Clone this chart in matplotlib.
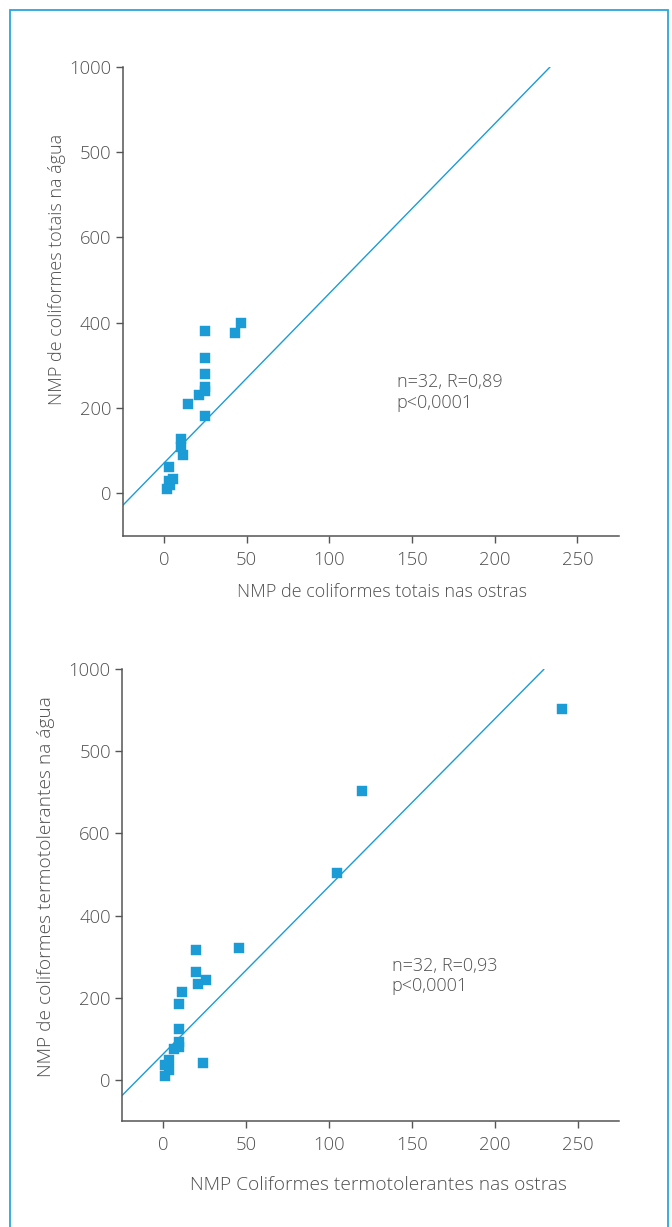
import matplotlib
matplotlib.use("Agg")
import matplotlib.pyplot as plt
from matplotlib.patches import Rectangle

plt.rcParams['font.family'] = ['Open Sans', 'DejaVu Sans']

# ---- data: chart 1 (coliformes totais) ----
tot_ostras = [46.8, 43.2, 24.6, 24.6, 24.6, 24.6, 24.6, 21.4, 14.2, 24.6,
              10.1, 10.1, 11.3, 3.3, 5.4, 2.8, 3.9, 1.5]
tot_agua = [400, 376, 380, 318, 280, 248, 239, 231, 208, 180,
            127, 109, 90, 60, 34, 29, 18, 9]
tot_fit_x = [-25, 233.6]
tot_fit_y = [-29, 1000]
tot_text = "n=32, R=0,89\np<0,0001"

# ---- data: chart 2 (coliformes termotolerantes) ----
ter_ostras = [240.4, 119.8, 104.6, 19.8, 45.7, 19.8, 25.8, 21.0, 11.4, 9.6,
              9.6, 9.6, 9.6, 6.6, 3.6, 1.0, 3.6, 1.2, 24.0]
ter_agua = [903, 704, 504, 315, 322, 263, 244, 234, 215, 185,
            124, 93, 81, 75, 49, 37, 23, 10, 40]
ter_fit_x = [-25.2, 229.7]
ter_fit_y = [-39, 1000]
ter_text = "n=32, R=0,93\np<0,0001"

yticks = [0, 200, 400, 600, 800, 1000]
ytick_labels = ["0", "200", "400", "600", "500", "1000"]
xticks = [0, 50, 100, 150, 200, 250]
xtick_labels = ["0", "50", "100", "150", "200", "250"]

BLUE = "#1b9cd6"
GREY = "#555555"
TXT = "#505050"
FS_TICK = 13.3
W = 300

fig = plt.figure(figsize=(6.72, 12.27), dpi=100)

fig.patches.append(Rectangle((9.5 / 672, -0.01), (668 - 9.5) / 672, 1 - 10 / 1227 + 0.01,
                             transform=fig.transFigure, fill=False,
                             edgecolor="#2aa6de", linewidth=1.3))


def setup(ax, xs, ys, fx, fy, txt, txt_xy, xlabel, ylabel, xl_coords, yl_coords, fs):
    ax.plot(fx, fy, color=BLUE, linewidth=1.0, solid_capstyle='butt')
    ax.plot(xs, ys, linestyle='none', marker='s', markersize=6.6,
            markerfacecolor=BLUE, markeredgecolor=BLUE, markeredgewidth=0.3)
    ax.set_xlim(-25, 275)
    ax.set_ylim(-100, 1000)
    for s in ['top', 'right']:
        ax.spines[s].set_visible(False)
    for s in ['left', 'bottom']:
        ax.spines[s].set_color(GREY)
        ax.spines[s].set_linewidth(1.1)
    ax.set_yticks(yticks)
    ax.set_yticklabels(ytick_labels)
    ax.set_xticks(xticks)
    ax.set_xticklabels(xtick_labels)
    ax.tick_params(axis='both', colors=GREY, labelcolor=TXT, labelsize=FS_TICK,
                   length=5, width=1.0, direction='out')
    ax.tick_params(axis='y', pad=3.0)
    ax.tick_params(axis='x', pad=6.0)
    for lab in ax.get_xticklabels() + ax.get_yticklabels():
        lab.set_fontweight(W)
    ax.set_xlabel(xlabel, fontsize=fs, color=TXT, fontweight=W)
    ax.set_ylabel(ylabel, fontsize=fs, color=TXT, fontweight=W)
    ax.xaxis.set_label_coords(*xl_coords)
    ax.yaxis.set_label_coords(*yl_coords)
    ax.text(txt_xy[0], txt_xy[1], txt, fontsize=13, color=TXT, fontweight=W,
            ha='left', va='center', linespacing=1.2)


ax1 = fig.add_axes([0.1826, 0.5634, 0.9207 - 0.1826, 0.9456 - 0.5634])
setup(ax1, tot_ostras, tot_agua, tot_fit_x, tot_fit_y, tot_text, (140.7, 235),
      "NMP de coliformes totais nas ostras", "NMP de coliformes totais na água",
      (0.523, -0.101), (-0.114, 0.567), 13)

ax2 = fig.add_axes([0.1815, 0.0864, 0.9216 - 0.1815, 0.4548 - 0.0864])
setup(ax2, ter_ostras, ter_agua, ter_fit_x, ter_fit_y, ter_text, (137.8, 253),
      "NMP Coliformes termotolerantes nas ostras",
      "NMP de coliformes termotolerantes na água",
      (0.515, -0.122), (-0.135, 0.518), 13.8)

fig.savefig("out.png", dpi=100)
